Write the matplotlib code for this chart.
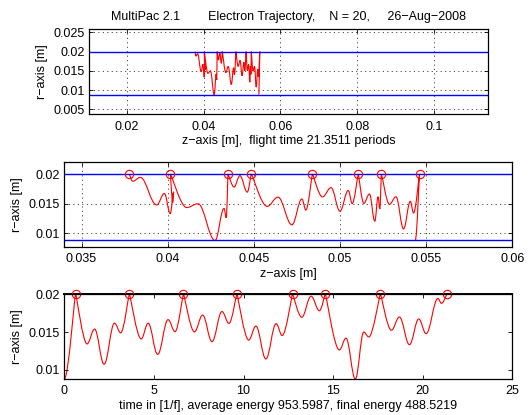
import matplotlib
matplotlib.use('Agg')
import matplotlib.pyplot as plt
from matplotlib.path import Path
from matplotlib.patches import PathPatch
from matplotlib.ticker import FuncFormatter, FixedLocator

plt.rcParams['font.family'] = ['Liberation Sans', 'DejaVu Sans']
plt.rcParams['font.size'] = 9
plt.rcParams['lines.scale_dashes'] = False

# ---------------- data ----------------
# turning points of the trajectory: time [1/f], z [m], r [m]
t_pts = [0.00, 0.63, 1.27, 1.69, 2.22, 2.80, 3.15, 3.63, 4.29, 4.68, 5.21,
         5.79, 6.18, 6.65, 7.26, 7.72, 8.24, 8.80, 9.19, 9.63, 10.29, 10.69,
         11.25, 11.82, 12.16, 12.74, 13.25, 13.77, 14.24, 14.56, 15.35, 15.72,
         16.24, 16.71, 16.99, 17.64, 18.25, 18.70, 19.26, 19.78, 20.19, 20.85,
         21.05, 21.35]
z_pts = [0.05437, 0.05462, 0.05427, 0.05408, 0.05369, 0.05325, 0.05287,
         0.05240, 0.05231, 0.05221, 0.05202, 0.05171, 0.05138, 0.05106,
         0.05071, 0.05048, 0.05000, 0.04948, 0.04898, 0.04840, 0.04802,
         0.04779, 0.04721, 0.04640, 0.04577, 0.04485, 0.04462, 0.04419,
         0.04385, 0.04350, 0.04340, 0.04327, 0.04275, 0.04176, 0.04110,
         0.04015, 0.04030, 0.04035, 0.04015, 0.03981, 0.03936, 0.03841,
         0.03797, 0.03777]
r_pts = [0.00880, 0.02000, 0.01344, 0.01540, 0.01075, 0.01618, 0.01490,
         0.02000, 0.01410, 0.01618, 0.01205, 0.01665, 0.01506, 0.02000,
         0.01503, 0.01725, 0.01374, 0.01772, 0.01615, 0.02000, 0.01394,
         0.01580, 0.01145, 0.01612, 0.01455, 0.02000, 0.01696, 0.01975,
         0.01782, 0.02000, 0.01264, 0.01420, 0.00880, 0.01500, 0.01436,
         0.02000, 0.01524, 0.01700, 0.01334, 0.01674, 0.01480, 0.01945,
         0.01880, 0.02000]
r_walls = [0.0088, 0.02]          # inner / outer conductor radius
N_impacts = 20
flight_time = 21.3511
avg_energy = 953.5987
final_energy = 488.5219
date_str = '26\u2212Aug\u22122008'

top_xticks = [0.02, 0.04, 0.06, 0.08, 0.1]
top_yticks = [0.005, 0.01, 0.015, 0.02, 0.025]
mid_xticks = [0.035, 0.04, 0.045, 0.05, 0.055, 0.06]
mid_yticks = [0.01, 0.015, 0.02]
bot_xticks = [0, 5, 10, 15, 20, 25]
bot_yticks = [0.01, 0.015, 0.02]

# ---------------- helpers ----------------
hits = [rv >= r_walls[1] - 1e-9 for rv in r_pts]


def traj_path(xs, ys, k=0.38, k_hit=0.10):
    verts = [(xs[0], ys[0])]
    codes = [Path.MOVETO]
    for i in range(len(xs) - 1):
        x0, y0, x1, y1 = xs[i], ys[i], xs[i + 1], ys[i + 1]
        dx = x1 - x0
        ka = k_hit if hits[i] else k
        kb = k_hit if hits[i + 1] else k
        c1 = (x0 + ka * dx, y0)
        c2 = (x1 - kb * dx, y1)
        verts += [c1, c2, (x1, y1)]
        codes += [Path.CURVE4] * 3
    return Path(verts, codes)


fmt = FuncFormatter(lambda v, p: '%g' % round(v, 6))
grid_ls = (0, (0.8, 2.4))
RED = '#ff0000'
BLUE = '#0000ff'


def style(ax, xt, yt, grid=True):
    ax.xaxis.set_major_locator(FixedLocator(xt))
    ax.yaxis.set_major_locator(FixedLocator(yt))
    ax.xaxis.set_major_formatter(fmt)
    ax.yaxis.set_major_formatter(fmt)
    ax.tick_params(direction='in', top=True, right=True, length=3,
                   width=0.6, labelsize=9)
    ax.tick_params(axis='x', pad=4.5)
    ax.tick_params(axis='y', pad=3)
    for s in ax.spines.values():
        s.set_linewidth(0.9)
    if grid:
        ax.grid(True, linestyle=grid_ls, color='#222222', linewidth=0.6)
        ax.set_axisbelow(True)


W, H = 532, 415
fig = plt.figure(figsize=(W / 100, H / 100), dpi=100)

# ---------------- top panel ----------------
ax1 = fig.add_axes([89.3 / W, 1 - 114.3 / H, 398.4 / W, 85.0 / H])
style(ax1, top_xticks, top_yticks)
ax1.set_xlim(0.0102, 0.1140)
ax1.set_ylim(0.0037, 0.0258)
for rw in r_walls:
    ax1.axhline(rw, color=BLUE, lw=1.0)
ax1.add_patch(PathPatch(traj_path(z_pts, r_pts), fill=False, ec=RED, lw=0.8))
ax1.set_ylabel('r\u2212axis [m]')
ax1.set_xlabel('z\u2212axis [m],  flight time %.4f periods' % flight_time,
               labelpad=2)
ax1.set_title('MultiPac 2.1        Electron Trajectory,    N = %d,     %s'
              % (N_impacts, date_str), fontsize=9, pad=7)

# ---------------- middle panel ----------------
ax2 = fig.add_axes([64.3 / W, 1 - 246.7 / H, 448.0 / W, 84.4 / H])
style(ax2, mid_xticks, mid_yticks)
ax2.set_xlim(0.034, 0.060)
ax2.set_ylim(0.00775, 0.0220)
for rw in r_walls:
    ax2.axhline(rw, color=BLUE, lw=1.0)
ax2.add_patch(PathPatch(traj_path(z_pts, r_pts), fill=False, ec=RED, lw=0.8))
zc = [zv for zv, h in zip(z_pts, hits) if h]
rc = [rv for rv, h in zip(r_pts, hits) if h]
ax2.plot(zc, rc, 'o', mfc='none', mec=RED, ms=6, mew=0.8)
ax2.set_ylabel('r\u2212axis [m]')
ax2.set_xlabel('z\u2212axis [m]', labelpad=2)

# ---------------- bottom panel ----------------
ax3 = fig.add_axes([64.3 / W, 1 - 379.0 / H, 448.0 / W, 84.7 / H])
style(ax3, bot_xticks, bot_yticks, grid=False)
ax3.set_xlim(0, 25)
ax3.set_ylim(min(r_pts), r_walls[1])
ax3.axhline(r_walls[1], color='black', lw=1.4, clip_on=False)
ax3.add_patch(PathPatch(traj_path(t_pts, r_pts), fill=False, ec=RED, lw=0.8,
                        clip_on=False))
tc = [tv for tv, h in zip(t_pts, hits) if h]
ax3.plot(tc, rc, 'o', mfc='none', mec=RED, ms=6, mew=0.8, clip_on=False)
ax3.set_ylabel('r\u2212axis [m]')
ax3.set_xlabel('time in [1/f], average energy %.4f, final energy %.4f'
               % (avg_energy, final_energy), labelpad=2)

fig.savefig('out.png', dpi=100)
